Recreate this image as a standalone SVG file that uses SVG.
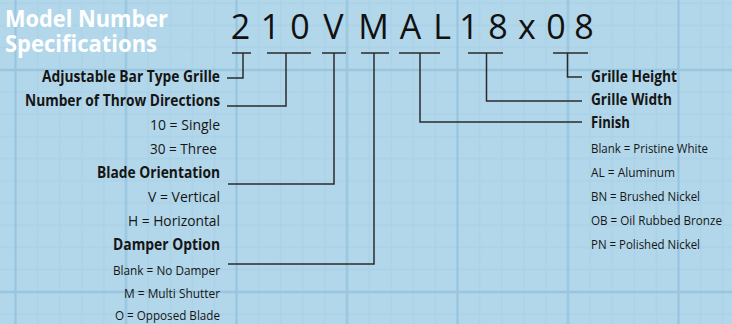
<svg xmlns="http://www.w3.org/2000/svg" width="732" height="324" viewBox="0 0 732 324">
  <defs>
    <pattern id="minor" patternUnits="userSpaceOnUse" x="4.5" y="-7.7" width="22.1" height="22.2">
      <path d="M11 0V22.2M0 11H22.1" stroke="#7fb3d3" stroke-width="1.6" stroke-opacity="0.16" fill="none"/>
    </pattern>
    <pattern id="major" patternUnits="userSpaceOnUse" x="-39.75" y="-41" width="110.5" height="222">
      <path d="M55.25 0V222M0 111H110.5" stroke="#6fa8cf" stroke-width="2.4" stroke-opacity="0.3" fill="none"/>
    </pattern>
    <style>
      .digit{font-family:"Open Sans","Liberation Sans",sans-serif;font-size:34px;fill:#111;text-anchor:middle}
      .title{font-family:"Open Sans","Liberation Sans",sans-serif;font-size:24px;font-weight:700;fill:#fff}
      .lb{font-family:"Open Sans","Liberation Sans",sans-serif;font-size:16px;font-weight:700;fill:#151515}
      .lr{font-family:"Open Sans","Liberation Sans",sans-serif;font-size:15px;fill:#151515}
      .ls{font-family:"Open Sans","Liberation Sans",sans-serif;font-size:13.5px;fill:#151515}
      .end{text-anchor:end}
      .conn{fill:none;stroke:#2b2b2b;stroke-width:1.5}
    </style>
  </defs>
  <rect width="732" height="324" fill="#b3d7ea"/>
  <rect width="732" height="324" fill="url(#minor)"/>
  <rect width="732" height="324" fill="url(#major)"/>

  <g id="title">
    <text class="title" x="5" y="27" textLength="163" lengthAdjust="spacingAndGlyphs">Model Number</text>
    <text class="title" x="5" y="51.5" textLength="152" lengthAdjust="spacingAndGlyphs">Specifications</text>
  </g>

  <g id="model-number">
    <text class="digit" x="240.5" y="39">2</text>
    <text class="digit" x="270.5" y="39">1</text>
    <text class="digit" x="300" y="39">0</text>
    <text class="digit" x="333.5" y="39">V</text>
    <text class="digit" x="373.5" y="39">M</text>
    <text class="digit" x="410.5" y="39">A</text>
    <text class="digit" x="442" y="39">L</text>
    <text class="digit" x="469" y="39">1</text>
    <text class="digit" x="498" y="39">8</text>
    <text class="digit" x="527" y="39">x</text>
    <text class="digit" x="556" y="39">0</text>
    <text class="digit" x="584" y="39">8</text>
  </g>

  <g id="connectors" class="conn">
    <path d="M232 53H251M243 53V78H227"/>
    <path d="M267 53H311M286 53V106H227"/>
    <path d="M322 53H346M334 53V184H228"/>
    <path d="M361 53H389M374 53V264H228"/>
    <path d="M399 53H440M420 53V122H582"/>
    <path d="M468 53H503M486.5 53V101H582"/>
    <path d="M553 53H588M567.5 53V77H582"/>
  </g>

  <g id="grille-type">
    <text class="lb end" x="220" y="82" textLength="178" lengthAdjust="spacingAndGlyphs">Adjustable Bar Type Grille</text>
  </g>
  <g id="throw-directions">
    <text class="lb end" x="220" y="105.5" textLength="195" lengthAdjust="spacingAndGlyphs">Number of Throw Directions</text>
    <text class="lr end" x="220" y="130" textLength="70" lengthAdjust="spacingAndGlyphs">10 = Single</text>
    <text class="lr end" x="217" y="154" textLength="67" lengthAdjust="spacingAndGlyphs">30 = Three</text>
  </g>
  <g id="blade-orientation">
    <text class="lb end" x="220" y="178" textLength="123" lengthAdjust="spacingAndGlyphs">Blade Orientation</text>
    <text class="lr end" x="220" y="202" textLength="72" lengthAdjust="spacingAndGlyphs">V = Vertical</text>
    <text class="lr end" x="220" y="226" textLength="92" lengthAdjust="spacingAndGlyphs">H = Horizontal</text>
  </g>
  <g id="damper-option">
    <text class="lb end" x="220" y="250" textLength="107" lengthAdjust="spacingAndGlyphs">Damper Option</text>
    <text class="ls end" x="220" y="275" textLength="107" lengthAdjust="spacingAndGlyphs">Blank = No Damper</text>
    <text class="ls end" x="220" y="298" textLength="96" lengthAdjust="spacingAndGlyphs">M = Multi Shutter</text>
    <text class="ls end" x="220" y="320" textLength="105" lengthAdjust="spacingAndGlyphs">O = Opposed Blade</text>
  </g>

  <g id="grille-height">
    <text class="lb" x="591" y="82" textLength="86" lengthAdjust="spacingAndGlyphs">Grille Height</text>
  </g>
  <g id="grille-width">
    <text class="lb" x="591" y="105" textLength="81" lengthAdjust="spacingAndGlyphs">Grille Width</text>
  </g>
  <g id="finish">
    <text class="lb" x="591" y="128" textLength="39" lengthAdjust="spacingAndGlyphs">Finish</text>
    <text class="ls" x="591" y="153" textLength="117" lengthAdjust="spacingAndGlyphs">Blank = Pristine White</text>
    <text class="ls" x="591" y="177" textLength="84" lengthAdjust="spacingAndGlyphs">AL = Aluminum</text>
    <text class="ls" x="591" y="201" textLength="109" lengthAdjust="spacingAndGlyphs">BN = Brushed Nickel</text>
    <text class="ls" x="591" y="225" textLength="131" lengthAdjust="spacingAndGlyphs">OB = Oil Rubbed Bronze</text>
    <text class="ls" x="591" y="249" textLength="109" lengthAdjust="spacingAndGlyphs">PN = Polished Nickel</text>
  </g>
</svg>
